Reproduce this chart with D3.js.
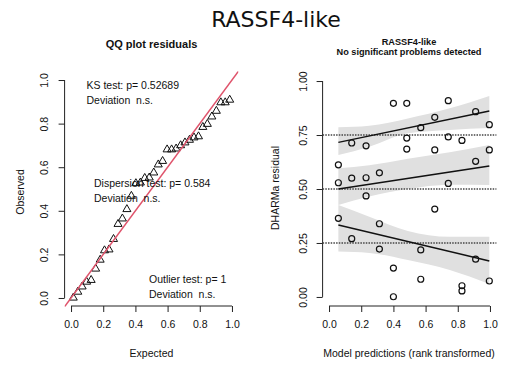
<!DOCTYPE html>
<html><head><meta charset="utf-8">
<script src="https://cdn.jsdelivr.net/npm/d3@7"></script>
<style>
body{margin:0;background:#fff;}
text{font-family:"Liberation Sans",Arial,sans-serif;fill:#111;white-space:pre;}
</style></head>
<body>
<svg id="chart" width="513" height="368"></svg>
<script>
// ---------- DATA ----------
const mainTitle = "RASSF4-like";
const qqTitle = "QQ plot residuals";
const resTitle1 = "RASSF4-like";
const resTitle2 = "No significant problems detected";
const ticks01 = [0, 0.2, 0.4, 0.6, 0.8, 1.0];
const ticksRes = [0, 0.25, 0.5, 0.75, 1.0];
const quantiles = [0.25, 0.5, 0.75];

// QQ plot: expected uniform quantiles and sorted observed residuals
const qqExpected = [0.014,0.042,0.069,0.097,0.125,0.153,0.181,0.208,0.236,0.264,0.292,0.319,
  0.347,0.375,0.403,0.431,0.458,0.486,0.514,0.542,0.569,0.597,0.625,0.653,0.681,0.708,
  0.736,0.764,0.792,0.819,0.847,0.875,0.903,0.931,0.958,0.986];
const qqObserved = [0.001,0.028,0.052,0.074,0.082,0.134,0.175,0.218,0.222,0.270,0.339,0.364,
  0.407,0.468,0.526,0.529,0.550,0.552,0.575,0.612,0.628,0.681,0.681,0.685,0.700,0.713,
  0.725,0.736,0.741,0.784,0.798,0.832,0.858,0.897,0.897,0.909];

// residual vs predicted (rank transformed)
const predRank = [0.058,0.141,0.230,0.313,0.400,0.483,0.570,0.657,0.741,0.826,0.911,0.996];
const residuals = [
  [0.612,0.529,0.364],
  [0.713,0.550,0.270],
  [0.700,0.552,0.468],
  [0.575,0.339,0.222],
  [0.897,0.134,0.001],
  [0.897,0.736,0.685],
  [0.784,0.218,0.082],
  [0.832,0.681,0.407],
  [0.909,0.741,0.526],
  [0.725,0.052,0.028],
  [0.858,0.628,0.175],
  [0.798,0.681,0.074]
];
// quantile regression fits (at ends) and confidence bands
const bandX = [0.058, 0.25, 0.49, 0.75, 0.996];
const q25Line = [0.333, 0.167];
const q25Lower = [0.210, 0.204, 0.171, 0.125, 0.060];
const q25Upper = [0.426, 0.372, 0.306, 0.279, 0.279];
const q50Line = [0.500, 0.606];
const q50Lower = [0.426, 0.465, 0.500, 0.520, 0.519];
const q50Upper = [0.596, 0.610, 0.640, 0.670, 0.704];
const q75Line = [0.716, 0.861];
const q75Lower = [0.657, 0.696, 0.758, 0.773, 0.782];
const q75Upper = [0.786, 0.793, 0.827, 0.874, 0.931];

const ksText = ["KS test: p= 0.52689", "Deviation  n.s."];
const dispText = ["Dispersion test: p= 0.584", "Deviation  n.s."];
const outText = ["Outlier test: p= 1", "Deviation  n.s."];

// ---------- DRAW ----------
const svg = d3.select("#chart");
svg.append("text").attr("x", 276).attr("y", 27).attr("text-anchor","middle")
  .style("font-family","'DejaVu Sans',sans-serif").style("font-size","22px").attr("fill","#111")
  .text(mainTitle);

// Left QQ panel
const xL = d3.scaleLinear([-0.04,1.04],[64.6,238.4]);
const yL = d3.scaleLinear([-0.04,1.04],[306.7,71.3]);
const gL = svg.append("g");

gL.append("text").attr("x",151.5).attr("y",48).attr("text-anchor","middle")
  .style("font-size","11px").style("font-weight","bold").text(qqTitle);

function styleAxis(g){
  g.select(".domain").remove();
  g.selectAll("line").attr("stroke","#222");
  g.selectAll("text").style("font-size","10.5px").style("font-family","'Liberation Sans',Arial,sans-serif").attr("fill","#333");
}
// x axis
const axL = gL.append("g").attr("transform",`translate(0,306)`)
  .call(d3.axisBottom(xL).tickValues(ticks01).tickFormat(d3.format(".1f")).tickSize(6).tickPadding(9));
styleAxis(axL);
axL.append("line").attr("x1",xL(0)).attr("x2",xL(1)).attr("stroke","#222");
// y axis
const ayL = gL.append("g").attr("transform",`translate(64.6,0)`)
  .call(d3.axisLeft(yL).tickValues(ticks01).tickFormat(d3.format(".1f")).tickSize(6));
styleAxis(ayL);
ayL.append("line").attr("y1",yL(0)).attr("y2",yL(1)).attr("stroke","#222");
ayL.selectAll(".tick text").attr("x",null).attr("dy",null).attr("text-anchor","middle")
  .attr("transform","translate(-17,0) rotate(-90)");

gL.append("text").attr("x",151.5).attr("y",357).attr("text-anchor","middle")
  .style("font-size","10.5px").attr("fill","#333").text("Expected");
gL.append("text").attr("transform","translate(24,192) rotate(-90)").attr("text-anchor","middle")
  .style("font-size","10.5px").attr("fill","#333").text("Observed");

// clip for plot region
svg.append("clipPath").attr("id","clipL").append("rect")
  .attr("x",64.6).attr("y",71.3).attr("width",238.4-64.6).attr("height",306.7-71.3);

// triangles
const tri = d3.symbol().type(d3.symbolTriangle).size(28);
gL.append("g").selectAll("path").data(qqExpected).join("path")
  .attr("d", tri)
  .attr("transform",(d,i)=>`translate(${xL(d)},${yL(qqObserved[i])})`)
  .attr("fill","none").attr("stroke","#111").attr("stroke-width",1);
// reference line
gL.append("line").attr("clip-path","url(#clipL)")
  .attr("x1",xL(-0.04)).attr("y1",yL(-0.04)).attr("x2",xL(1.04)).attr("y2",yL(1.04))
  .attr("stroke","#DF536B").attr("stroke-width",1.5);

function textBlock(g, lines, x, y){
  lines.forEach((t,i)=> g.append("text").attr("x",x).attr("y",y+i*14.5)
    .attr("xml:space","preserve")
    .style("font-size","10.5px").attr("fill","#1a1a2e").text(t));
}
textBlock(gL, ksText, 86.5, 89);
textBlock(gL, dispText, 94, 187);
textBlock(gL, outText, 149, 283);

// Right panel
const xR = d3.scaleLinear([-0.04,1.04],[322.6,496.4]);
const yR = d3.scaleLinear([-0.04,1.04],[305.6,72.4]);
const gR = svg.append("g");

gR.append("text").attr("x",409).attr("y",45).attr("text-anchor","middle")
  .style("font-size","9.2px").style("font-weight","bold").text(resTitle1);
gR.append("text").attr("x",409).attr("y",55).attr("text-anchor","middle")
  .style("font-size","9.2px").style("font-weight","bold").text(resTitle2);

const axR = gR.append("g").attr("transform",`translate(0,306)`)
  .call(d3.axisBottom(xR).tickValues(ticks01).tickFormat(d3.format(".1f")).tickSize(6).tickPadding(9));
styleAxis(axR);
axR.append("line").attr("x1",xR(0)).attr("x2",xR(1)).attr("stroke","#222");
const ayR = gR.append("g").attr("transform",`translate(322.6,0)`)
  .call(d3.axisLeft(yR).tickValues(ticksRes).tickFormat(d3.format(".2f")).tickSize(6));
styleAxis(ayR);
ayR.append("line").attr("y1",yR(0)).attr("y2",yR(1)).attr("stroke","#222");
ayR.selectAll(".tick text").attr("x",null).attr("dy",null).attr("text-anchor","middle")
  .attr("transform","translate(-16,0) rotate(-90)");

gR.append("text").attr("x",409).attr("y",357).attr("text-anchor","middle")
  .style("font-size","10.5px").attr("fill","#333").text("Model predictions (rank transformed)");
gR.append("text").attr("transform","translate(279,188) rotate(-90)").attr("text-anchor","middle")
  .style("font-size","10.5px").attr("fill","#333").text("DHARMa residual");

// bands
const bands = [[q25Lower,q25Upper],[q50Lower,q50Upper],[q75Lower,q75Upper]];
const area = d3.area().x(d=>xR(d.x)).y0(d=>yR(d.lo)).y1(d=>yR(d.hi)).curve(d3.curveMonotoneX);
bands.forEach(([lo,hi])=>{
  gR.append("path").datum(bandX.map((x,i)=>({x, lo:lo[i], hi:hi[i]})))
    .attr("d", area).attr("fill","#e0e0e0").attr("stroke","none");
});
// dotted horizontal lines
gR.append("g").selectAll("line").data(quantiles).join("line")
  .attr("x1",xR(-0.04)).attr("x2",xR(1.04)).attr("y1",d=>yR(d)).attr("y2",d=>yR(d))
  .attr("stroke","#444").attr("stroke-width",1.3).attr("stroke-dasharray","1.5,1.2");
// points
const pts = [];
predRank.forEach((x,i)=>residuals[i].forEach(r=>pts.push({x,r})));
gR.append("g").selectAll("circle").data(pts).join("circle")
  .attr("cx",d=>xR(d.x)).attr("cy",d=>yR(d.r)).attr("r",3)
  .attr("fill","none").attr("stroke","#111").attr("stroke-width",1.2);
// quantile lines
const xEnds = [predRank[0], predRank[predRank.length-1]];
[q25Line,q50Line,q75Line].forEach(l=>{
  gR.append("line").attr("x1",xR(xEnds[0])).attr("x2",xR(xEnds[1]))
    .attr("y1",yR(l[0])).attr("y2",yR(l[1])).attr("stroke","#111").attr("stroke-width",1.5);
});
</script>
</body></html>
